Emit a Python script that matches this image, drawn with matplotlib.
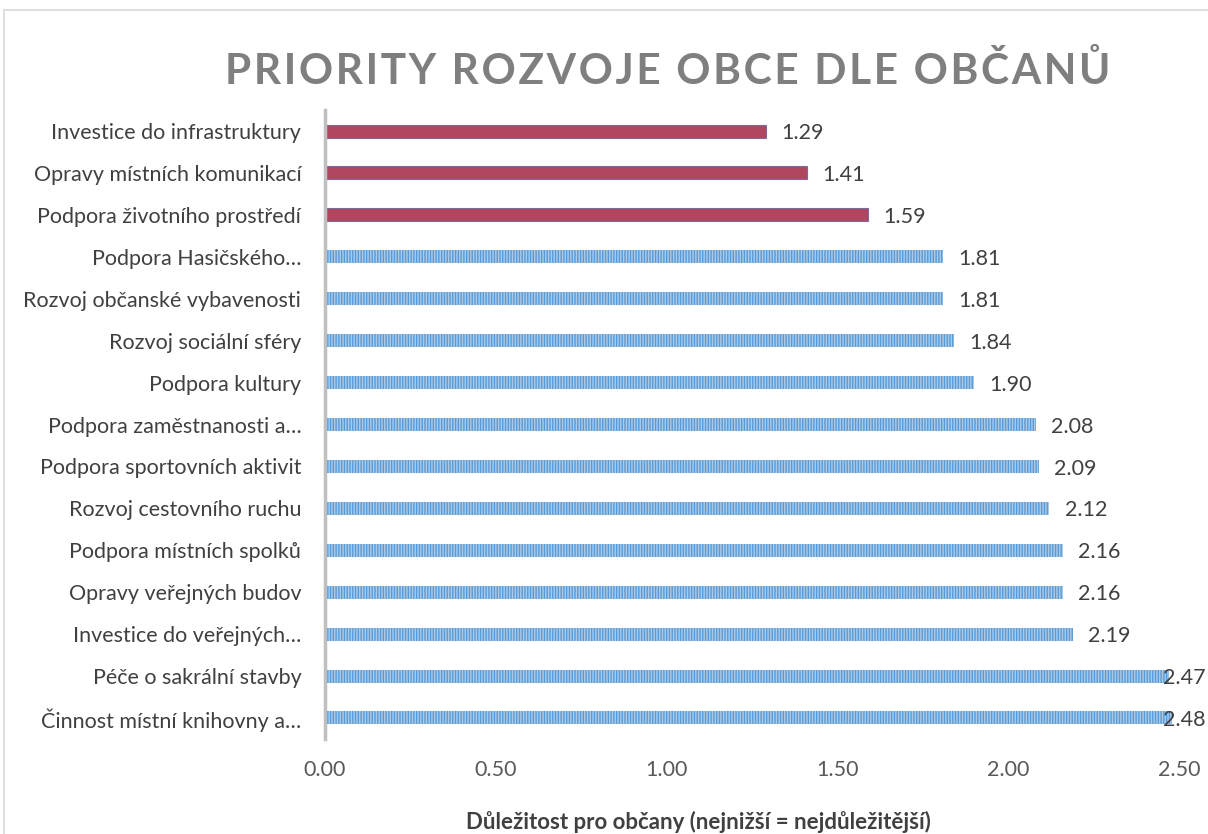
import matplotlib
matplotlib.use("Agg")
import matplotlib.pyplot as plt
from matplotlib.patches import Rectangle

# data, top to bottom as in the picture
labels = ["Investice do infrastruktury", "Opravy místních komunikací",
          "Podpora životního prostředí", "Podpora Hasičského…",
          "Rozvoj občanské vybavenosti", "Rozvoj sociální sféry",
          "Podpora kultury", "Podpora zaměstnanosti a…",
          "Podpora sportovních aktivit", "Rozvoj cestovního ruchu",
          "Podpora místních spolků", "Opravy veřejných budov",
          "Investice do veřejných…", "Péče o sakrální stavby",
          "Činnost místní knihovny a…"]
values = [1.29, 1.41, 1.59, 1.81, 1.81, 1.84, 1.90, 2.08, 2.09, 2.12,
          2.16, 2.16, 2.19, 2.47, 2.48]
top_n = 3  # highlighted in red
xticks = [0.0, 0.5, 1.0, 1.5, 2.0, 2.5]

plt.rcParams["font.family"] = ["Lato", "DejaVu Sans"]
plt.rcParams["hatch.linewidth"] = 1.0
FS = 15.5

fig = plt.figure(figsize=(12.08, 8.34), dpi=100)
ax = fig.add_axes([0.269, 0.114, 0.707, 0.754])

y = list(range(len(values)))
for i, v in enumerate(values):
    if i < top_n:
        ax.barh(i, v, height=0.31, color="#B0475F", edgecolor="#7E6A9E", linewidth=0.8)
    else:
        ax.barh(i, v, height=0.31, color="#5B9BD5", edgecolor="#A9CBEB",
                linewidth=0, hatch="||||||")
    # Excel squeezes the last labels in at the right edge
    ax.text(min(v + 0.045, 2.452), i + 0.05, f"{v:.2f}", va="center", ha="left",
            fontsize=FS, color="#404040", clip_on=False)

ax.set_ylim(len(values) - 0.5, -0.5)
ax.set_xlim(0, 2.5)
ax.set_yticks(y)
ax.set_yticklabels(labels, fontsize=FS, color="#404040")
ax.set_xticks(xticks)
ax.set_xticklabels([f"{t:.2f}" for t in xticks], fontsize=FS, color="#595959")
ax.tick_params(length=0)
ax.tick_params(axis="y", pad=17)
ax.tick_params(axis="x", pad=15)
for s in ["top", "right", "bottom"]:
    ax.spines[s].set_visible(False)
ax.spines["left"].set_color("#BFBFBF")
ax.spines["left"].set_linewidth(2.5)

ax.set_xlabel("Důležitost pro občany (nejnižší = nejdůležitější)", fontsize=16,
              fontweight="bold", color="#404040")
ax.xaxis.set_label_coords((698 - 325) / (1179 - 325), -0.115)

title = "PRIORITY ROZVOJE OBCE DLE OBČANŮ"
title = "\u200a".join(title)
fig.text(0.553, 0.915, title, ha="center", va="center", fontsize=30.5,
         fontweight="bold", color="#7F7F7F")

fig.patches.append(Rectangle((0.003, -0.05), 1.2, 1.05 - 10 / 834, transform=fig.transFigure,
                             fill=False, edgecolor="#D9D9D9", linewidth=1.2))

fig.savefig("out.png", dpi=100)
